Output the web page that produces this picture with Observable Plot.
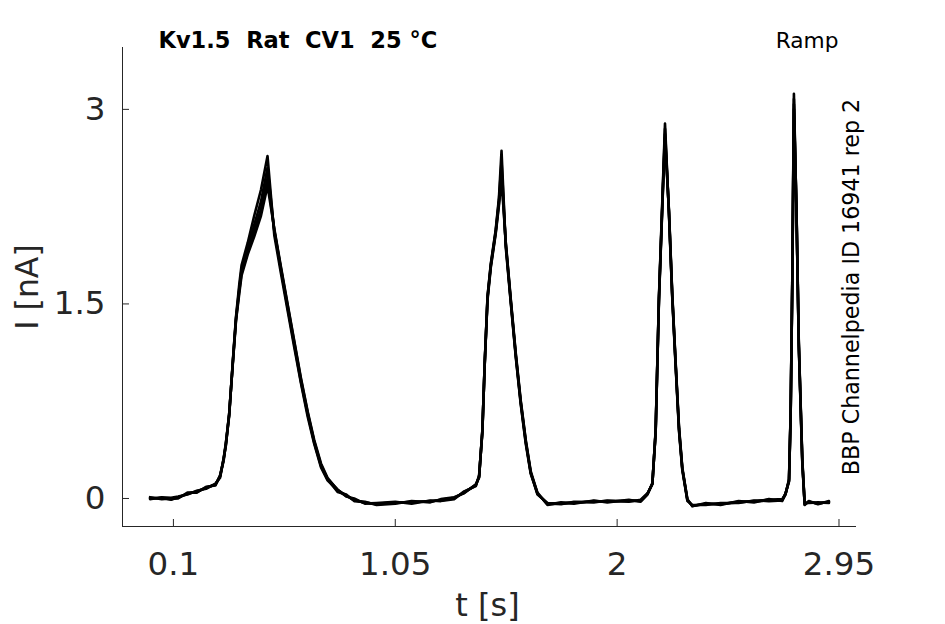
<!DOCTYPE html>
<html>
<head>
<meta charset="utf-8">
<script src="https://cdn.jsdelivr.net/npm/d3@7"></script>
<script src="https://cdn.jsdelivr.net/npm/@observablehq/plot@0.6"></script>
<style>
  html, body { margin: 0; padding: 0; background: #fff; }
</style>
</head>
<body>
<div id="chart"></div>
<script>
// ---- data ----
const time = [
  0.00, 0.05, 0.09, 0.12, 0.16, 0.20, 0.24, 0.28, 0.30, 0.315, 0.325, 0.339, 0.354, 0.368, 0.382, 0.392,
  0.418, 0.446, 0.475, 0.503, 0.532, 0.560, 0.589, 0.617, 0.646, 0.675, 0.703, 0.732, 0.760, 0.803, 0.84,
  0.874, 0.92, 0.97, 1.05, 1.12, 1.20, 1.245, 1.302, 1.345, 1.395, 1.409, 1.423, 1.433, 1.445, 1.459,
  1.480, 1.494, 1.505, 1.523, 1.545, 1.566, 1.587, 1.609, 1.630, 1.659, 1.702, 1.76, 1.815, 1.90, 1.958,
  2.05, 2.101, 2.130, 2.151, 2.165, 2.179, 2.194, 2.205, 2.222, 2.236, 2.250, 2.265, 2.279, 2.301, 2.322,
  2.38, 2.443, 2.52, 2.586, 2.65, 2.707, 2.721, 2.736, 2.743, 2.750, 2.757, 2.768, 2.778, 2.793, 2.803,
  2.821, 2.86, 2.907
];
const sweep1 = [
  0.00, 0.005, -0.01, 0.01, 0.035, 0.055, 0.08, 0.11, 0.17, 0.30, 0.42, 0.65, 1.04, 1.40, 1.65, 1.80,
  1.97, 2.18, 2.38, 2.64, 2.03, 1.74, 1.45, 1.17, 0.89, 0.63, 0.42, 0.24, 0.14, 0.06, 0.02,
  -0.01, -0.035, -0.04, -0.03, -0.03, -0.02, -0.015, 0.0, 0.05, 0.10, 0.17, 0.52, 1.04, 1.55, 1.81,
  2.07, 2.32, 2.68, 1.94, 1.50, 1.09, 0.73, 0.42, 0.19, 0.036, -0.04, -0.035, -0.03, -0.025, -0.02,
  -0.02, -0.015, 0.036, 0.113, 0.52, 1.55, 2.32, 2.89, 2.19, 1.55, 1.04, 0.52, 0.22, -0.015, -0.054,
  -0.045, -0.04, -0.03, -0.02, -0.015, -0.01, 0.036, 0.14, 0.65, 1.68, 3.12, 2.20, 1.17, 0.27, -0.04,
  -0.03, -0.035, -0.03
];
const sweep2 = [
  0.01, -0.005, 0.0, 0.0, 0.045, 0.045, 0.09, 0.10, 0.18, 0.29, 0.43, 0.64, 1.05, 1.39, 1.62, 1.77,
  1.93, 2.11, 2.29, 2.55, 2.06, 1.77, 1.47, 1.19, 0.90, 0.65, 0.43, 0.25, 0.15, 0.05, 0.03,
  -0.02, -0.025, -0.05, -0.04, -0.02, -0.03, -0.005, 0.01, 0.04, 0.11, 0.16, 0.53, 1.03, 1.56, 1.80,
  2.06, 2.30, 2.60, 1.96, 1.51, 1.10, 0.74, 0.43, 0.20, 0.045, -0.05, -0.03, -0.04, -0.015, -0.03,
  -0.01, -0.025, 0.03, 0.12, 0.51, 1.54, 2.30, 2.85, 2.20, 1.56, 1.05, 0.53, 0.23, -0.005, -0.06,
  -0.035, -0.05, -0.02, -0.03, -0.005, -0.02, 0.04, 0.13, 0.64, 1.66, 3.08, 2.21, 1.18, 0.28, -0.05,
  -0.02, -0.045, -0.02
];
const sweep3 = [
  -0.005, 0.01, 0.005, 0.015, 0.03, 0.06, 0.075, 0.115, 0.16, 0.31, 0.41, 0.66, 1.03, 1.38, 1.60, 1.74,
  1.90, 2.06, 2.23, 2.47, 2.07, 1.78, 1.49, 1.21, 0.92, 0.66, 0.44, 0.26, 0.15, 0.07, 0.015,
  0.0, -0.04, -0.035, -0.025, -0.04, -0.015, -0.02, -0.005, 0.055, 0.095, 0.18, 0.51, 1.05, 1.54, 1.79,
  2.05, 2.28, 2.52, 1.97, 1.52, 1.11, 0.75, 0.44, 0.20, 0.03, -0.035, -0.045, -0.025, -0.03, -0.015,
  -0.025, -0.01, 0.04, 0.11, 0.53, 1.53, 2.28, 2.81, 2.21, 1.57, 1.06, 0.54, 0.23, -0.02, -0.05,
  -0.05, -0.035, -0.035, -0.015, -0.02, -0.015, 0.03, 0.15, 0.66, 1.67, 3.04, 2.22, 1.19, 0.29, -0.035,
  -0.035, -0.03, -0.035
];
const sweep4 = [
  0.005, 0.0, -0.005, 0.005, 0.04, 0.05, 0.085, 0.105, 0.175, 0.305, 0.435, 0.655, 1.035, 1.37, 1.58, 1.72,
  1.88, 2.02, 2.18, 2.41, 2.08, 1.79, 1.50, 1.22, 0.93, 0.67, 0.45, 0.27, 0.16, 0.065, 0.025,
  -0.015, -0.03, -0.045, -0.035, -0.025, -0.025, -0.01, 0.005, 0.045, 0.105, 0.165, 0.525, 1.035, 1.53, 1.78,
  2.04, 2.26, 2.46, 1.98, 1.53, 1.12, 0.76, 0.45, 0.21, 0.04, -0.045, -0.04, -0.035, -0.02, -0.025,
  -0.015, -0.02, 0.035, 0.115, 0.515, 1.52, 2.27, 2.78, 2.22, 1.58, 1.07, 0.55, 0.24, -0.01, -0.058,
  -0.04, -0.045, -0.025, -0.025, -0.01, -0.005, 0.035, 0.135, 0.645, 1.65, 3.00, 2.23, 1.20, 0.30, -0.045,
  -0.025, -0.04, -0.025
];
const sweepNames = ["sweep 1", "sweep 2", "sweep 3", "sweep 4"];
const sweeps = [sweep1, sweep2, sweep3, sweep4];

const xDomain = [-0.118, 3.025];
const yDomain = [-0.216, 3.477];
const xTicks = [0.1, 1.05, 2, 2.95];
const xTickLabels = ["0.1", "1.05", "2", "2.95"];
const yTicks = [0, 1.5, 3];
const yTickLabels = ["0", "1.5", "3"];

const titleText = "Kv1.5  Rat  CV1  25 °C";
const protocolText = "Ramp";
const sideText = "BBP Channelpedia ID 16941 rep 2";
const xLabel = "t [s]";
const yLabel = "I [nA]";

// ---- table built from the arrays ----
const rows = sweeps.flatMap((s, k) => time.map((t, i) => ({t, I: s[i], sweep: sweepNames[k]})));

const axisColor = "#262626";
const chart = Plot.plot({
  width: 945,
  height: 624,
  marginLeft: 122,
  marginRight: 89,
  marginTop: 47,
  marginBottom: 98,
  style: {fontFamily: "DejaVu Sans", color: axisColor, background: "#fff", overflow: "visible"},
  x: {domain: xDomain},
  y: {domain: yDomain},
  marks: [
    Plot.line(rows, {x: "t", y: "I", z: "sweep", stroke: "black", strokeWidth: 2.6, strokeLinejoin: "round"}),
    Plot.ruleX([xDomain[0]], {stroke: axisColor, strokeWidth: 1}),
    Plot.ruleY([yDomain[0]], {stroke: axisColor, strokeWidth: 1}),
    Plot.axisX(xTicks, {anchor: "bottom", tickSize: -7, tickPadding: 32, fontSize: 32.5,
      tickFormat: (d) => xTickLabels[xTicks.indexOf(d)], label: null}),
    Plot.axisY(yTicks, {anchor: "left", tickSize: -7, tickPadding: 24, fontSize: 32.5,
      tickFormat: (d) => yTickLabels[yTicks.indexOf(d)], label: null}),
    Plot.text([titleText], {frameAnchor: "top-left", text: d => d, dx: 36, dy: 0, lineAnchor: "bottom",
      textAnchor: "start", fontSize: 22.5, fontWeight: "bold", fill: "black"}),
    Plot.text([protocolText], {frameAnchor: "top-right", text: d => d, dx: -18, dy: 0, lineAnchor: "bottom",
      textAnchor: "end", fontSize: 21.7, fill: "black"}),
    Plot.text([sideText], {frameAnchor: "right", text: d => d, dx: 2, rotate: -90, lineAnchor: "bottom",
      textAnchor: "middle", fontSize: 22.2, fill: "black"}),
    Plot.text([xLabel], {frameAnchor: "bottom", text: d => d, dx: -2, dy: 89, lineAnchor: "bottom",
      textAnchor: "middle", fontSize: 32, fill: axisColor}),
    Plot.text([yLabel], {frameAnchor: "left", text: d => d, dx: -85, rotate: -90, lineAnchor: "bottom",
      textAnchor: "middle", fontSize: 31.5, fill: axisColor})
  ]
});
document.getElementById("chart").appendChild(chart);
</script>
</body>
</html>
